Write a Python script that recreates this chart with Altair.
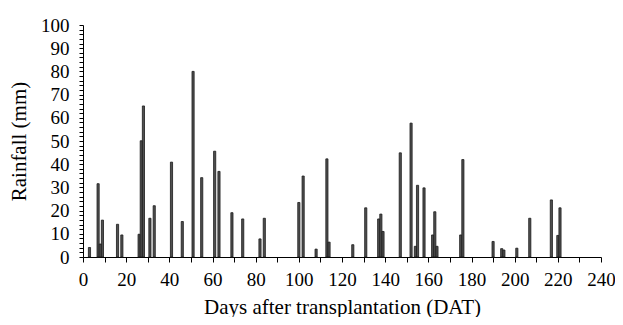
import altair as alt
import pandas as pd

days = [3, 7, 8, 9, 16, 18, 26, 27, 28, 31, 33, 41, 46, 51, 55, 61, 63, 69, 74,
        82, 84, 100, 102, 108, 113, 114, 125, 131, 137, 138, 139, 147, 152, 154,
        155, 158, 162, 163, 164, 175, 176, 190, 194, 195, 201, 207, 217, 220, 221]
rain = [4.1, 31.6, 5.6, 15.9, 14.1, 9.5, 9.8, 50.1, 65.1, 16.7, 22.1, 40.9, 15.3,
        80.0, 34.2, 45.6, 36.9, 19.1, 16.4, 7.8, 16.7, 23.5, 34.9, 3.4, 42.3, 6.4,
        5.3, 21.2, 16.4, 18.5, 11.0, 44.9, 57.7, 4.6, 30.9, 29.8, 9.5, 19.5, 4.6,
        9.5, 42.0, 6.7, 3.6, 3.0, 3.8, 16.7, 24.6, 9.3, 21.2]

x_ticks = list(range(0, 241, 10))
y_ticks = list(range(0, 101, 2))

FONT = "Liberation Serif"
W, H = 518, 232

df = pd.DataFrame({"day": days, "rain": rain})

x_scale = alt.Scale(domain=[0, 240], nice=False, zero=False)
y_scale = alt.Scale(domain=[0, 100], nice=False)

bars = alt.Chart(df).transform_calculate(
    x0="datum.day - 0.5", x1="datum.day + 0.5"
).mark_bar(fill="#505050", stroke="#1a1a1a", strokeWidth=0.8).encode(
    x=alt.X("x0:Q", scale=x_scale,
            axis=alt.Axis(values=x_ticks, title="Days after transplantation (DAT)",
                          labelExpr="datum.value % 20 == 0 ? datum.label : ''",
                          labelOverlap=False, labelFlush=False, grid=False,
                          domainColor="black", tickColor="black", tickSize=5,
                          labelFontSize=19, labelFont=FONT, labelColor="black",
                          titleFont=FONT, titleFontSize=21, titleFontWeight="normal",
                          titleColor="black", labelPadding=8, titlePadding=7)),
    x2="x1:Q",
    y=alt.Y("rain:Q", scale=y_scale,
            axis=alt.Axis(values=y_ticks, title="Rainfall (mm)",
                          labelExpr="datum.value % 10 == 0 ? datum.label : ''",
                          labelOverlap=False, labelFlush=False, grid=False,
                          domainColor="black", tickColor="black", tickSize=4,
                          labelFontSize=19, labelFont=FONT, labelColor="black",
                          titleFont=FONT, titleFontSize=21, titleFontWeight="normal",
                          titleColor="black", labelPadding=10, titlePadding=11)),
    y2=alt.datum(0),
)

chart = bars.properties(
    width=W, height=H,
    autosize=alt.AutoSizeParams(type="none"),
    padding={"left": 75, "top": 17, "right": 14, "bottom": 60},
).configure_view(stroke=None)

chart.save("out.html", embed_options={"renderer": "svg", "actions": False})
